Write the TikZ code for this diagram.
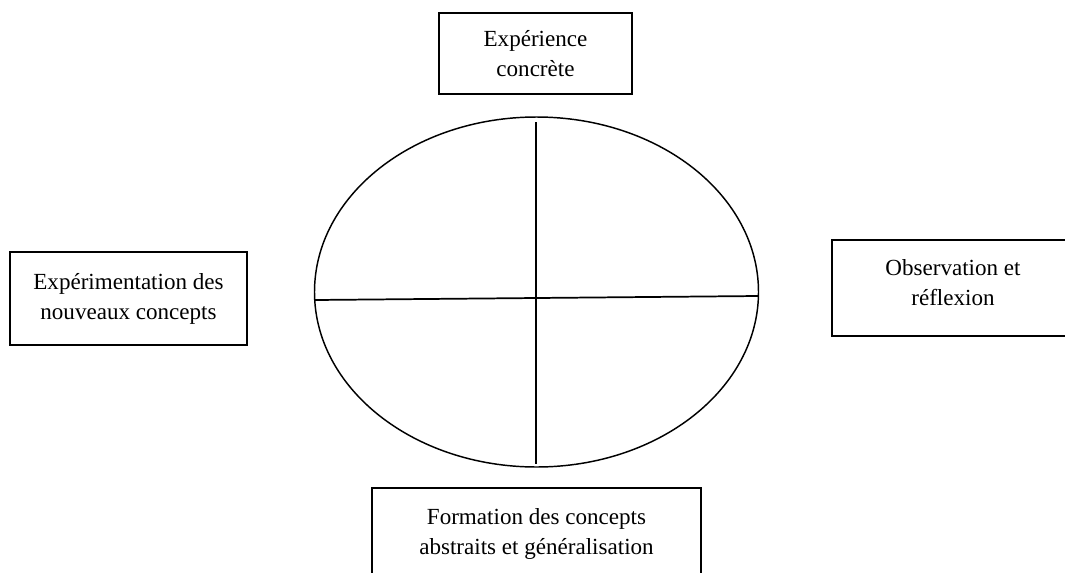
\documentclass[tikz,border=0pt]{standalone}
\usepackage{fontspec}
\setmainfont{Liberation Serif}
\usetikzlibrary{shapes.geometric}
\begin{document}
\begin{tikzpicture}[x=0.75pt,y=-0.75pt,
  stagebox/.style={draw, rectangle, line width=1.5pt, align=center, inner sep=0pt,
    font=\fontsize{17.3}{22.5}\selectfont},
  cyclering/.style={draw, ellipse, line width=1.1pt, inner sep=0pt},
  axisline/.style={line width=1.1pt}]
\useasboundingbox (0,0) rectangle (1065,572);
\node[stagebox, minimum width=144.75pt, minimum height=60.75pt] (top) at (535.5,53.5) {Expérience\\concrète};
\node[stagebox, minimum width=177.75pt, minimum height=69.75pt] (left) at (128.5,298.5) {Expérimentation des\\nouveaux concepts};
\node[stagebox, minimum width=181.5pt, minimum height=72pt, text depth=9pt] (right) at (953,288) {Observation et\\réflexion};
\node[stagebox, minimum width=246.75pt, minimum height=69pt] (bottom) at (536.5,534) {Formation des concepts\\abstraits et généralisation};
\node[cyclering, minimum width=333pt, minimum height=262.5pt] (cyc) at (536.5,292) {};
\coordinate (vtop) at (536,122);
\coordinate (vbot) at (536,464);
\coordinate (hleft) at (315,300);
\coordinate (hright) at (758,296);
\draw[axisline] (vtop) -- (vbot);
\draw[axisline, line width=1.3pt] (hleft) -- (hright);
\end{tikzpicture}
\end{document}
